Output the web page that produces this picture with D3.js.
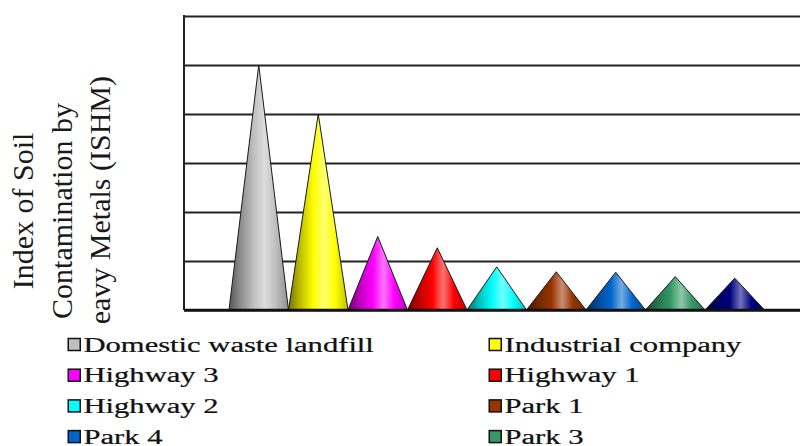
<!DOCTYPE html>
<html>
<head>
<meta charset="utf-8">
<script src="https://cdn.jsdelivr.net/npm/d3@7"></script>
<style>
  html, body { margin: 0; padding: 0; background: #fff; }
  svg { display: block; }
  .serif { font-family: "Liberation Serif", Tinos, "DejaVu Serif", serif; }
</style>
</head>
<body>
<svg id="chart" width="800" height="446"></svg>
<script>
// Sampling sites and their index of soil contamination by heavy metals
const categories = [
  "Domestic waste landfill", "Industrial company", "Highway 3", "Highway 1",
  "Highway 2", "Park 1", "Park 4", "Park 3", "Park 2"
];
const ishm = [5.0, 4.0, 1.5, 1.27, 0.88, 0.78, 0.77, 0.68, 0.65];
const colors = [
  "#c0c0c0", "#ffff00", "#ff00ff", "#ff0000",
  "#00ffff", "#993300", "#0066cc", "#339966", "#000080"
];
const yTicks = [0, 1, 2, 3, 4, 5, 6];
const yLabelLines = ["Index of Soil", "Contamination by", "Heavy Metals (ISHM)"];

const svg = d3.select("#chart");
const W = 800, H = 446;

// plot frame
const plot = { left: 184, top: 16, right: 820, bottom: 310 };
const conesLeft = 229, conesRight = 764.5;

const x = d3.scaleBand().domain(categories).range([conesLeft, conesRight]).padding(0);
const y = d3.scaleLinear().domain([0, 6]).range([plot.bottom, plot.top]);

// cone shading gradients
const defs = svg.append("defs");
colors.forEach((c, i) => {
  const toBlack = d3.interpolateRgb(c, "#000");
  const toWhite = d3.interpolateRgb(c, "#fff");
  const g = defs.append("linearGradient")
    .attr("id", "cone" + i)
    .attr("x1", "0").attr("y1", "0").attr("x2", "1").attr("y2", "0");
  [
    [0, toBlack(0.55)],
    [0.18, toBlack(0.28)],
    [0.42, c],
    [0.6, toWhite(0.45)],
    [0.78, c],
    [1, toBlack(0.25)]
  ].forEach(([o, col]) => g.append("stop").attr("offset", o).attr("stop-color", col));
});

// y-axis title, three rotated lines
const yTitle = svg.append("text")
  .attr("class", "serif")
  .attr("transform", "translate(0,211) rotate(-90)")
  .attr("text-anchor", "middle")
  .attr("font-size", 30)
  .attr("fill", "#1a1a1a");
yLabelLines.forEach((t, i) => {
  yTitle.append("tspan").attr("x", 0).attr("y", 33 + i * 38.5).text(t);
});

// gridlines through the value axis (labels are not shown)
const gAxis = svg.append("g")
  .attr("transform", `translate(${plot.left},0)`)
  .call(d3.axisLeft(y).tickValues(yTicks).tickSize(-(plot.right - plot.left)).tickFormat(""));
gAxis.select(".domain").remove();
gAxis.selectAll(".tick line")
  .attr("stroke", "#222")
  .attr("stroke-width", d => d === 0 ? 2.6 : 2);

// left frame border
svg.append("line")
  .attr("x1", plot.left).attr("x2", plot.left)
  .attr("y1", plot.top - 1).attr("y2", plot.bottom)
  .attr("stroke", "#222").attr("stroke-width", 2);

// cones
svg.append("g").selectAll("path")
  .data(categories.map((c, i) => ({ c, v: ishm[i], i })))
  .join("path")
  .attr("d", d => {
    const x0 = x(d.c), x1 = x(d.c) + x.bandwidth(), xm = x0 + x.bandwidth() / 2;
    return `M${x0},${y(0)} L${xm},${y(d.v)} L${x1},${y(0)} Z`;
  })
  .attr("fill", d => `url(#cone${d.i})`)
  .attr("stroke", "#1a1a1a")
  .attr("stroke-width", 1)
  .attr("stroke-linejoin", "miter");

// baseline redrawn on top
svg.append("line")
  .attr("x1", plot.left).attr("x2", W)
  .attr("y1", y(0)).attr("y2", y(0))
  .attr("stroke", "#111").attr("stroke-width", 2.6);

// legend
const legendTop = 325;
svg.append("rect")
  .attr("x", 40).attr("y", legendTop).attr("width", W - 40).attr("height", H - legendTop)
  .attr("fill", "#fff");

const legend = svg.append("g");
const colX = [67.5, 488.5], rowY0 = 351.7, rowStep = 30.7;
categories.forEach((c, i) => {
  const col = i % 2, row = Math.floor(i / 2);
  const g = legend.append("g")
    .attr("transform", `translate(${colX[col]},${rowY0 + row * rowStep})`);
  g.append("rect")
    .attr("x", 0.75).attr("y", -13.2).attr("width", 12).attr("height", 12)
    .attr("fill", colors[i]).attr("stroke", "#111").attr("stroke-width", 1.5);
  g.append("text")
    .attr("class", "serif")
    .attr("x", 16)
    .attr("transform", "scale(1,0.69)")
    .attr("font-size", 30.6)
    .attr("fill", "#111")
    .attr("stroke", "#111")
    .attr("stroke-width", 0.35)
    .text(c);
});
</script>
</body>
</html>
